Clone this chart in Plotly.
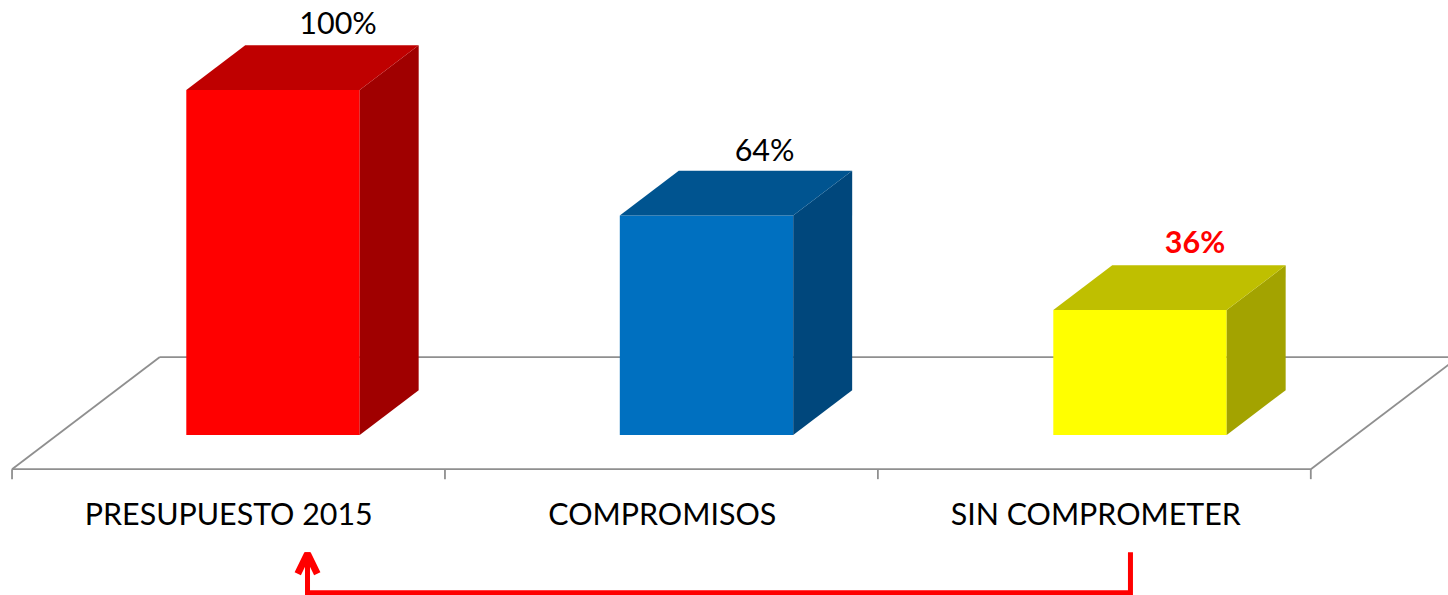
import plotly.graph_objects as go

categories = ["PRESUPUESTO 2015", "COMPROMISOS", "SIN COMPROMETER"]
values = [100, 63.6, 36.2]
value_labels = ["100%", "64%", "36%"]
front_colors = ["#FF0000", "#0070C0", "#FFFF00"]
top_colors = ["#BF0000", "#005490", "#BFBF00"]
side_colors = ["#A00000", "#00477C", "#A3A300"]
label_colors = ["#000000", "#000000", "#FF0000"]
label_weights = ["normal", "normal", "bold"]
label_dx = [0.150, 0.134, 0.127]
label_dy = [18.5, 18.0, 18.7]

BAR_W = 0.4
DX = 0.136
DY = 13.0
FLOOR_FRONT = -9.9
FLOOR_BACK = 22.6
FLOOR_DX = 0.341
FLOOR_LEFT = -0.602
FLOOR_W = 2.996
TICK_LEN = 2.9
GREY = "#8F8F8F"
PX = 433.5
PY = 3.45
X_RANGE = [-273 / PX, (1448 - 273) / PX]
Y_RANGE = [(435 - 595) / PY, 435 / PY]
ARROW_Y = -45.7
ARROW_TOP = -34.0
ARROW_HEAD_DX = 0.0225
ARROW_HEAD_DY = 5.8
ARROW_X = [0.0796, 1.978]
ARROW_TIP = -34.4

fig = go.Figure()

# floor, kept behind the bars
floor_right = FLOOR_LEFT + FLOOR_W
floor_lines = [
    ([FLOOR_LEFT + FLOOR_DX, FLOOR_LEFT], [FLOOR_BACK, FLOOR_FRONT]),
    ([FLOOR_LEFT, floor_right], [FLOOR_FRONT, FLOOR_FRONT]),
    ([floor_right, floor_right + FLOOR_DX], [FLOOR_FRONT, FLOOR_BACK]),
    ([FLOOR_LEFT + FLOOR_DX, floor_right + FLOOR_DX], [FLOOR_BACK, FLOOR_BACK]),
]
for k in range(4):
    t = FLOOR_LEFT + k * FLOOR_W / 3
    floor_lines.append(([t, t], [FLOOR_FRONT, FLOOR_FRONT - TICK_LEN]))
for xs, ys in floor_lines:
    fig.add_shape(type="line", x0=xs[0], x1=xs[1], y0=ys[0], y1=ys[1],
                  line=dict(color=GREY, width=1.8), layer="below")

# bars
for i, v in enumerate(values):
    l, r = i - BAR_W / 2, i + BAR_W / 2
    fig.add_trace(go.Scatter(
        x=[r, r + DX, r + DX, r, r], y=[0, DY, v + DY, v, 0],
        mode="lines", fill="toself", fillcolor=side_colors[i],
        line=dict(width=0), hoverinfo="skip", showlegend=False))
    fig.add_trace(go.Scatter(
        x=[l, l + DX, r + DX, r, l], y=[v, v + DY, v + DY, v, v],
        mode="lines", fill="toself", fillcolor=top_colors[i],
        line=dict(width=0), hoverinfo="skip", showlegend=False))
fig.add_trace(go.Bar(
    x=[0, 1, 2], y=values, width=BAR_W, marker=dict(color=front_colors, line=dict(width=0)),
    hovertemplate="%{y}%<extra></extra>", showlegend=False))

# value labels
for i, v in enumerate(values):
    fig.add_trace(go.Scatter(
        x=[i + label_dx[i]], y=[v + label_dy[i]], mode="text", text=[value_labels[i]],
        textfont=dict(family="Lato", size=30.5, color=label_colors[i], weight=label_weights[i]),
        cliponaxis=False, hoverinfo="skip", showlegend=False))

# category labels
fig.add_trace(go.Scatter(
    x=[i - 0.102 for i in range(3)], y=[FLOOR_FRONT - 14.0] * 3, mode="text",
    text=categories, textfont=dict(family="Lato", size=30.4, color="#000000"),
    cliponaxis=False, hoverinfo="skip", showlegend=False))

# arrow
fig.add_trace(go.Scatter(
    x=[ARROW_X[1], ARROW_X[1], ARROW_X[0], ARROW_X[0]],
    y=[ARROW_TOP, ARROW_Y, ARROW_Y, ARROW_TOP],
    mode="lines", line=dict(color="#FF0000", width=5), hoverinfo="skip", showlegend=False))
fig.add_trace(go.Scatter(
    x=[ARROW_X[0] - ARROW_HEAD_DX, ARROW_X[0], ARROW_X[0] + ARROW_HEAD_DX],
    y=[ARROW_TIP - ARROW_HEAD_DY, ARROW_TIP, ARROW_TIP - ARROW_HEAD_DY],
    mode="lines", line=dict(color="#FF0000", width=7), hoverinfo="skip", showlegend=False))

fig.update_layout(
    width=1448, height=595, margin=dict(l=0, r=0, t=0, b=0),
    paper_bgcolor="white", plot_bgcolor="white", showlegend=False,
    xaxis=dict(range=X_RANGE, visible=False, fixedrange=True),
    yaxis=dict(range=Y_RANGE, visible=False, fixedrange=True),
)
fig.write_html("out.html", config={"displayModeBar": False},
               post_script="document.body.style.margin='0';document.documentElement.style.overflow='hidden';")
